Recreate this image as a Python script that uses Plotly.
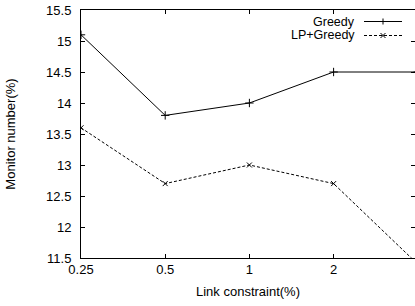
import math
import plotly.graph_objects as go

# ---- data ----
link_constraint = [0.25, 0.5, 1, 2, 4]
tick_labels = ["0.25", "0.5", "1", "2", "4"]
greedy = [15.1, 13.8, 14.0, 14.5, 14.5]
lp_greedy = [13.6, 12.7, 13.0, 12.7, 11.4]
series_names = ["Greedy", "LP+Greedy"]
y_ticks = [11.5, 12, 12.5, 13, 13.5, 14, 14.5, 15, 15.5]

W, H = 415, 306
L, R, T, B = 81, 0, 10, 48
plot_w = W - L - R
plot_h = H - T - B
FONT = "Liberation Sans, Arial, Helvetica, sans-serif"

# log-x range: 0.25 at left edge, 4 falls just past the right edge (cut off)
x_lo = math.log10(0.25)
x_hi = x_lo + math.log10(2) * (plot_w / 84.2)

fig = go.Figure()
fig.add_trace(go.Scatter(
    x=link_constraint, y=greedy, mode="lines+markers", name=series_names[0],
    line=dict(color="black", width=1),
    marker=dict(symbol="cross-thin", size=6, color="black",
                line=dict(color="black", width=1)),
    showlegend=False, cliponaxis=True))
fig.add_trace(go.Scatter(
    x=link_constraint, y=lp_greedy, mode="lines+markers", name=series_names[1],
    line=dict(color="black", width=1, dash="3px,2px"),
    marker=dict(symbol="x-thin", size=5, color="black",
                line=dict(color="black", width=1)),
    showlegend=False, cliponaxis=True))
# empty trace to bring up the right-side tick axis
fig.add_trace(go.Scatter(x=[], y=[], yaxis="y2", showlegend=False))

def px2paper(px, py):
    return (px - L) / plot_w, (H - B - py) / plot_h

shapes = []
annotations = []
legend_rows = [(series_names[0], 21.5, "solid", "+"), (series_names[1], 35.5, "3px,2px", "x")]
for name, py, dash, sym in legend_rows:
    tx, ty = px2paper(356.5, py)
    annotations.append(dict(x=tx, y=ty, xref="paper", yref="paper", text=name,
                            showarrow=False, xanchor="right", yanchor="middle",
                            font=dict(family=FONT, size=12.5, color="black")))
    x0, yy = px2paper(364, py)
    x1, _ = px2paper(402, py)
    shapes.append(dict(type="line", xref="paper", yref="paper", x0=x0, x1=x1,
                       y0=yy, y1=yy, line=dict(color="black", width=1, dash=dash)))
    mx, _ = px2paper(383, py)
    if sym == "+":
        segs = [(-3, 0, 3, 0), (0, -3, 0, 3)]
    else:
        segs = [(-2.5, -2.5, 2.5, 2.5), (-2.5, 2.5, 2.5, -2.5)]
    for a, b, c, d in segs:
        shapes.append(dict(type="line", xref="paper", yref="paper",
                           xsizemode="pixel", ysizemode="pixel",
                           xanchor=mx, yanchor=yy, x0=a, y0=b, x1=c, y1=d,
                           line=dict(color="black", width=1)))

fig.update_layout(
    width=W, height=H,
    margin=dict(l=L, r=R, t=T, b=B, pad=0),
    paper_bgcolor="white", plot_bgcolor="white",
    font=dict(family=FONT, size=13, color="black"),
    hovermode=False,
    xaxis=dict(type="log", range=[x_lo, x_hi], tickvals=link_constraint,
               ticktext=tick_labels, ticks="inside", ticklen=4, tickwidth=1,
               tickcolor="black", showline=True, linecolor="black", linewidth=1,
               mirror="ticks", showgrid=False, zeroline=False,
               ticklabelstandoff=-1,
               tickfont=dict(family=FONT, size=13),
               title=dict(text="Link constraint(%)", standoff=11,
                          font=dict(family=FONT, size=13))),
    yaxis=dict(range=[11.5, 15.5], tickvals=y_ticks, ticks="inside", ticklen=4,
               tickwidth=1, tickcolor="black", showline=True, linecolor="black",
               linewidth=1, mirror=False, showgrid=False, zeroline=False,
               ticklabelstandoff=6, ticklabeloverflow="allow",
               tickfont=dict(family=FONT, size=13),
               title=dict(text="Monitor number(%)", standoff=27,
                          font=dict(family=FONT, size=13))),
    yaxis2=dict(overlaying="y", side="right", range=[11.5, 15.5], tickvals=y_ticks,
                ticks="inside", ticklen=4, tickwidth=1, tickcolor="black",
                showticklabels=False, showline=False, showgrid=False, zeroline=False),
    shapes=shapes, annotations=annotations,
)

fig.write_html("out.html", config={"displayModeBar": False},
               post_script="document.body.style.margin='0px';")
